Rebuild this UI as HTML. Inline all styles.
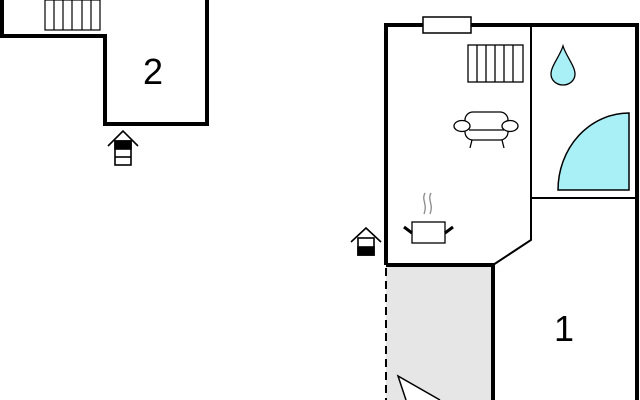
<!DOCTYPE html>
<html><head><style>body{margin:0;background:#fff}svg{display:block}</style></head><body>
<svg width="640" height="400" viewBox="0 0 640 400" xmlns="http://www.w3.org/2000/svg">
<!-- left building -->
<g fill="none" stroke="#000" stroke-width="4">
<polyline points="2,0 2,36 105,36 105,124 207,124 207,0"/>
</g>
<g fill="#fff" stroke="#000" stroke-width="1.2">
<rect x="45" y="0" width="55" height="30"/>
<line x1="54" y1="0" x2="54" y2="30"/><line x1="63" y1="0" x2="63" y2="30"/><line x1="72" y1="0" x2="72" y2="30"/><line x1="82" y1="0" x2="82" y2="30"/><line x1="91" y1="0" x2="91" y2="30"/>
</g>
<text x="153" y="84" font-family="Liberation Sans, sans-serif" font-size="36" text-anchor="middle">2</text>
<!-- entry icon left -->
<g stroke="#000" stroke-width="1.6" fill="none">
<polyline points="108,146 123,131 138,146"/>
<rect x="115" y="141" width="16" height="24" fill="#fff"/>
<rect x="115" y="141" width="16" height="8" fill="#000"/>
<line x1="115" y1="157" x2="131" y2="157"/>
</g>
<!-- right building -->
<rect x="386" y="265" width="107" height="140" fill="#e6e6e6"/>
<line x1="386" y1="268" x2="386" y2="400" stroke="#000" stroke-width="2" stroke-dasharray="8,5"/>
<g fill="none" stroke="#000">
<polyline points="386,265 386,25 637,25 637,400" stroke-width="4"/>
<polyline points="386,265 493,265 493,400" stroke-width="4"/>
<polyline points="531,25 531,240 493,265" stroke-width="2"/>
<line x1="531" y1="198" x2="637" y2="198" stroke-width="2"/>
</g>
<rect x="423" y="17" width="48" height="16" fill="#fff" stroke="#000" stroke-width="1.5"/>
<!-- radiator -->
<g fill="#fff" stroke="#000" stroke-width="1.3">
<rect x="468" y="45" width="55" height="37"/>
<line x1="477" y1="45" x2="477" y2="82"/><line x1="486" y1="45" x2="486" y2="82"/><line x1="495" y1="45" x2="495" y2="82"/><line x1="504" y1="45" x2="504" y2="82"/><line x1="513" y1="45" x2="513" y2="82"/>
</g>
<!-- drop -->
<path d="M563,46 C560,56 551,66 551,74 C551,80 556,85 563,85 C570,85 575,80 575,74 C575,66 566,56 563,46 Z" fill="#a8f0f5" stroke="#000" stroke-width="1.3"/>
<!-- quarter circle -->
<path d="M629,113 L629,190 L558,190 A71,77 0 0 1 629,113 Z" fill="#a8f0f5" stroke="#000" stroke-width="1.5"/>
<!-- sofa -->
<g fill="#fff" stroke="#000" stroke-width="1.3">
<rect x="465" y="112" width="43" height="28" rx="8"/>
<line x1="469" y1="130" x2="504" y2="130"/>
<ellipse cx="462" cy="126" rx="8" ry="5.5"/>
<ellipse cx="510" cy="126" rx="8" ry="5.5"/>
<line x1="472" y1="140" x2="470" y2="148"/><line x1="502" y1="140" x2="504" y2="148"/>
</g>
<!-- pot -->
<g fill="none" stroke="#000" stroke-width="1.3">
<rect x="412" y="222" width="33" height="21" fill="#fff"/>
<line x1="404" y1="227" x2="412" y2="233" stroke-width="3"/>
<line x1="453" y1="227" x2="445" y2="233" stroke-width="3"/>
<path d="M425,193 C421,200 428,204 424,214" stroke="#888"/>
<path d="M431,193 C427,200 434,204 430,214" stroke="#888"/>
</g>
<!-- entry icon right -->
<g stroke="#000" stroke-width="1.6" fill="none">
<polyline points="351,242 366,228 381,242"/>
<rect x="358" y="238" width="16" height="17" fill="#fff"/>
<rect x="358" y="247" width="16" height="8" fill="#000"/>
</g>
<text x="564" y="341" font-family="Liberation Sans, sans-serif" font-size="36" text-anchor="middle">1</text>
<!-- arrow bottom -->
<polyline points="406,400 398,376 440,400" fill="#fff" stroke="#000" stroke-width="1.5"/>
</svg>
</body></html>
